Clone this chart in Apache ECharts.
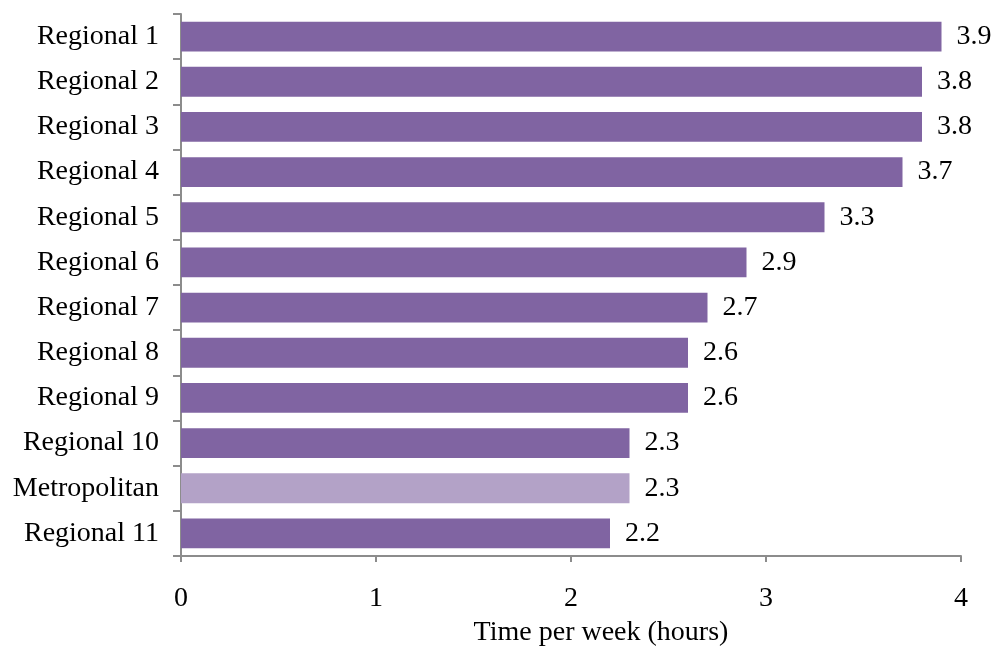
<!DOCTYPE html>
<html><head><meta charset="utf-8">
<script src="https://cdn.jsdelivr.net/npm/echarts@6/dist/echarts.min.js"></script>
<style>html,body{margin:0;padding:0;background:#fff}#c{width:995px;height:648px}</style>
</head><body><div id="c"></div>
<script>
const categories = ["Regional 1","Regional 2","Regional 3","Regional 4","Regional 5","Regional 6","Regional 7","Regional 8","Regional 9","Regional 10","Metropolitan","Regional 11"];
const values = [3.9,3.8,3.8,3.7,3.3,2.9,2.7,2.6,2.6,2.3,2.3,2.2];
const xTicks = [0,1,2,3,4];
const highlight = "Metropolitan";

const chart = echarts.init(document.getElementById('c'));
const font = '"Liberation Serif", "Times New Roman", serif';
const fs = 28;
chart.setOption({
  animation:false,
  grid:{left:181,right:34,top:14,bottom:92,containLabel:false,outerBoundsMode:'none'},
  xAxis:{type:'value',min:xTicks[0],max:xTicks[xTicks.length-1],interval:1,
    name:'Time per week (hours)',nameLocation:'middle',nameGap:63,
    nameTextStyle:{fontFamily:font,fontSize:fs,color:'#000',padding:[0,0,0,60]},
    axisLine:{show:true,lineStyle:{color:'#8c8c8c',width:2}},
    axisTick:{show:true,length:6,lineStyle:{color:'#8c8c8c',width:2}},
    axisLabel:{fontFamily:font,fontSize:fs,color:'#000',margin:29},
    splitLine:{show:false}},
  yAxis:{type:'category',inverse:true,data:categories,
    axisLine:{show:true,lineStyle:{color:'#8c8c8c',width:2}},
    axisTick:{show:true,length:8,lineStyle:{color:'#8c8c8c',width:2}},
    axisLabel:{fontFamily:font,fontSize:fs,color:'#000',margin:22}},
  series:[{type:'bar',barCategoryGap:'34%',
    data:values.map((v,i)=>({value:v,itemStyle:{color:categories[i]===highlight?'#B3A2C7':'#8064A2'}})),
    label:{show:true,position:'right',distance:15,fontFamily:font,fontSize:fs,color:'#000',formatter:p=>p.value.toFixed(1)}
  }]
});
</script></body></html>
